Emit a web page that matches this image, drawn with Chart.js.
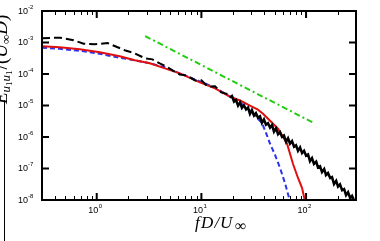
<!DOCTYPE html>
<html>
<head>
<meta charset="utf-8">
<script src="https://cdn.jsdelivr.net/npm/chart.js@4.4.0/dist/chart.umd.min.js"></script>
<style>
  html, body { margin: 0; padding: 0; background: #fff; overflow: hidden; }
</style>
</head>
<body>
<canvas id="spectrum" width="380" height="241"></canvas>
<script>
// spectra E_u1u1 vs fD/U
const blackDashF = [0.3, 0.45, 0.6, 0.75, 0.95, 1.27, 1.5, 1.85, 2.3, 2.9, 3.4, 4.0, 4.6, 5.3, 6.2, 7.2, 8.7, 10, 11.5, 13.5, 15.5, 18.7];
const blackDashE = [1.37e-3, 1.42e-3, 1.18e-3, 9.2e-4, 8.8e-4, 9.6e-4, 7.6e-4, 5.7e-4, 4.55e-4, 3.15e-4, 2.92e-4, 2.18e-4, 1.75e-4, 1.3e-4, 9.7e-5, 9.0e-5, 6.25e-5, 6.3e-5, 4.0e-5, 4.1e-5, 2.6e-5, 2.2e-5];

// noisy high-frequency part of the black spectrum
const blackNoisyF = [18.7, 19.6, 20.5, 21.4, 22.4, 23.4, 24.4, 25.5, 26.7, 27.9, 29.1, 30.4, 31.8, 33.2, 34.7, 36.3,
  37.9, 39.6, 41.4, 43.3, 45.3, 47.3, 49.4, 51.6, 54.0, 56.4, 58.9, 61.5, 64.4, 67.3, 70.3, 73.4,
  76.8, 80.2, 83.8, 87.6, 91.6, 95.7, 100, 104.5, 109, 114, 119, 125, 130, 136,
  142, 149, 155, 162, 170, 177, 185, 194, 202, 211, 221, 231, 241, 252, 264, 275, 288, 300];
const blackNoisyE = [1.79e-5, 2.0e-5, 1.33e-5, 1.49e-5, 9.93e-6, 1.26e-5, 8.44e-6, 1.02e-5, 7.5e-6, 8.57e-6, 5.43e-6, 7.18e-6, 4.83e-6, 5.76e-6, 4.1e-6, 4.55e-6,
  2.8e-6, 3.62e-6, 2.44e-6, 2.74e-6, 1.98e-6, 2.4e-6, 1.48e-6, 1.87e-6, 1.22e-6, 1.44e-6, 1.01e-6, 1.12e-6, 7.03e-7, 9.16e-7, 6.15e-7, 7.45e-7,
  4.93e-7, 5.47e-7, 3.62e-7, 4.65e-7, 3.08e-7, 3.65e-7, 2.56e-7, 2.8e-7, 1.7e-7, 2.15e-7, 1.4e-7, 1.65e-7, 1.08e-7, 1.17e-7,
  7.67e-8, 9.64e-8, 6.2e-8, 7.18e-8, 4.97e-8, 5.35e-8, 3.22e-8, 4.07e-8, 2.66e-8, 3.13e-8, 2.04e-8, 2.21e-8, 1.42e-8, 1.77e-8, 1.14e-8, 1.35e-8, 9.6e-9, 9.2e-9];

const redF = [0.3, 0.443, 0.688, 1.07, 1.66, 2.31, 3.22, 4.48, 6.22, 9.68, 13.5, 18.7, 23.4, 29.1, 34.7, 38.8, 45.3, 54, 60.2, 65.8, 75.1, 83.8, 91.6, 97.8];
const redE = [7.6e-4, 7.08e-4, 6.1e-4, 4.9e-4, 3.65e-4, 2.72e-4, 2.18e-4, 1.51e-4, 1.05e-4, 5.4e-5, 3.5e-5, 1.92e-5, 1.44e-5, 9.9e-6, 7.4e-6, 5.5e-6, 3.3e-6, 1.83e-6, 1.01e-6, 6.1e-7, 1.39e-7, 5.0e-8, 2.4e-8, 9e-9];

const blueF = [0.3, 0.443, 0.688, 1.07, 1.66, 2.31, 3.22, 4.48, 6.22, 9.68, 13.5, 18.7, 23.4, 29.1, 33.2, 37.9, 41.4, 45.3, 50.5, 56.4, 63, 70.3];
const blueE = [6.8e-4, 6.3e-4, 5.47e-4, 4.39e-4, 3.27e-4, 2.72e-4, 2.18e-4, 1.63e-4, 1.05e-4, 5.8e-5, 3.7e-5, 1.92e-5, 1.24e-5, 6.9e-6, 4.4e-6, 2.8e-6, 1.36e-6, 6.1e-7, 2.7e-7, 1.04e-7, 3.4e-8, 9e-9];

// -5/3 reference line
const slopeF = [2.9, 117];
const slopeE = [1.6e-3, 2.85e-6];

const xTickExps = [0, 1, 2];
const yTickExps = [-2, -3, -4, -5, -6, -7, -8];

const pts = (f, e) => f.map((v, i) => ({ x: v, y: e[i] }));

const frame = {
  id: 'frame',
  afterDraw(chart) {
    const { ctx, chartArea: a, scales: { x, y } } = chart;
    ctx.save();
    ctx.strokeStyle = '#000';

    // minor x ticks
    ctx.lineWidth = 1;
    for (let k = -1; k <= 2; k++) {
      for (let m = 2; m <= 9; m++) {
        const v = m * Math.pow(10, k);
        if (v <= 0.3 || v >= 300) continue;
        const px = Math.round(x.getPixelForValue(v)) + 0.5;
        ctx.beginPath();
        ctx.moveTo(px, a.bottom); ctx.lineTo(px, a.bottom - 4);
        ctx.moveTo(px, a.top); ctx.lineTo(px, a.top + 4);
        ctx.stroke();
      }
    }
    // major ticks
    ctx.lineWidth = 2;
    xTickExps.forEach(e => {
      const px = x.getPixelForValue(Math.pow(10, e));
      ctx.beginPath();
      ctx.moveTo(px, a.bottom); ctx.lineTo(px, a.bottom - 7);
      ctx.moveTo(px, a.top); ctx.lineTo(px, a.top + 7);
      ctx.stroke();
    });
    yTickExps.forEach(e => {
      const py = y.getPixelForValue(Math.pow(10, e));
      ctx.beginPath();
      ctx.moveTo(a.left, py); ctx.lineTo(a.left + 7, py);
      ctx.moveTo(a.right, py); ctx.lineTo(a.right - 7, py);
      ctx.stroke();
    });
    ctx.strokeRect(a.left, a.top, a.right - a.left, a.bottom - a.top);

    // tick labels
    ctx.fillStyle = '#000';
    ctx.textBaseline = 'middle';
    const base = '9px "Liberation Sans", Arial, sans-serif';
    const sup = '6px "Liberation Sans", Arial, sans-serif';
    yTickExps.forEach(e => {
      const py = y.getPixelForValue(Math.pow(10, e));
      ctx.font = sup;
      ctx.textAlign = 'left';
      ctx.fillText('-' + Math.abs(e), 28, py - 4);
      ctx.font = base;
      ctx.textAlign = 'right';
      ctx.fillText('10', 28, py + 0.5);
    });
    xTickExps.forEach(e => {
      const px = x.getPixelForValue(Math.pow(10, e));
      ctx.font = base;
      ctx.textAlign = 'right';
      ctx.fillText('10', px + 1.5, 211);
      ctx.font = sup;
      ctx.textAlign = 'left';
      ctx.fillText(String(e), px + 2, 206.5);
    });

    // x title
    ctx.textBaseline = 'alphabetic';
    ctx.textAlign = 'left';
    ctx.font = 'italic 17px "Liberation Serif", "DejaVu Serif", serif';
    ctx.fillText('f', 195, 228);
    ctx.fillText('D', 201, 228);
    ctx.fillText('/', 214.5, 228);
    ctx.fillText('U', 220, 228);
    ctx.font = '16px "Liberation Serif", "DejaVu Serif", serif';
    ctx.fillText('\u221E', 235, 231);

    // y title, rotated and partly off the left edge
    ctx.save();
    ctx.translate(7, 104);
    ctx.rotate(-Math.PI / 2);
    let cx = 0;
    const put = (t, font, dy) => {
      ctx.font = font;
      ctx.fillText(t, cx, dy);
      cx += ctx.measureText(t).width;
    };
    const it = 'italic 19px "Liberation Serif", serif';
    const itS = 'italic 13px "Liberation Serif", serif';
    const upS = '9px "Liberation Serif", serif';
    const up = '19px "Liberation Serif", serif';
    put('E', it, 0);
    put('u', itS, 3); put('1', upS, 5); put('u', itS, 3); put('1', upS, 5);
    cx += 1;
    put('/', up, 0);
    put('(', up, 0);
    put('U', it, 0);
    put('\u221E', '13px "Liberation Serif", serif', 3);
    put('D', it, 0);
    put(')', up, 0);
    ctx.restore();

    // left border line
    ctx.lineWidth = 1;
    ctx.beginPath();
    ctx.moveTo(4.5, 100); ctx.lineTo(4.5, 241);
    ctx.stroke();
    ctx.restore();
  }
};

new Chart(document.getElementById('spectrum'), {
  type: 'line',
  data: {
    datasets: [
      { data: pts(slopeF, slopeE), borderColor: '#22cc11', borderWidth: 2, borderDash: [6, 3, 2, 3] },
      { data: pts(blackNoisyF, blackNoisyE), borderColor: '#000', borderWidth: 2.5 },
      { data: pts(blackDashF, blackDashE), borderColor: '#000', borderWidth: 2, borderDash: [8, 4] },
      { data: pts(redF, redE), borderColor: '#e01010', borderWidth: 2 },
      { data: pts(blueF, blueE), borderColor: '#2a33ee', borderWidth: 2, borderDash: [5, 3] }
    ]
  },
  options: {
    responsive: false,
    animation: false,
    devicePixelRatio: 1,
    layout: { padding: { left: 42, top: 11, right: 24, bottom: 41 } },
    elements: { point: { radius: 0 }, line: { tension: 0, fill: false } },
    plugins: { legend: { display: false }, tooltip: { enabled: false } },
    scales: {
      x: { type: 'logarithmic', min: 0.3, max: 300, display: false },
      y: { type: 'logarithmic', min: 1e-8, max: 1e-2, display: false }
    }
  },
  plugins: [frame]
});
</script>
</body>
</html>
